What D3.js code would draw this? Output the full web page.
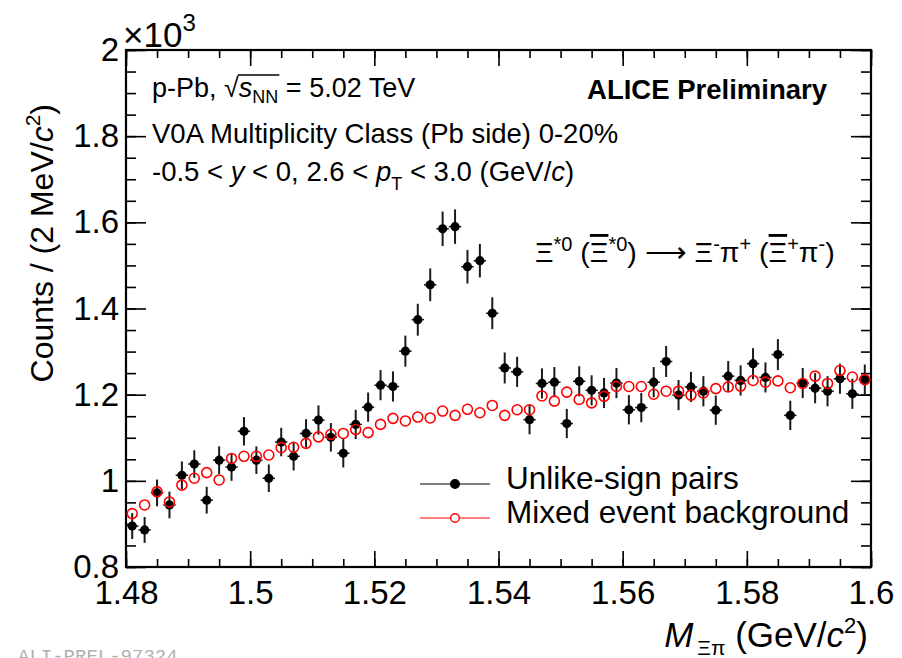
<!DOCTYPE html>
<html>
<head>
<meta charset="utf-8">
<script src="https://cdnjs.cloudflare.com/ajax/libs/d3/7.8.5/d3.min.js"></script>
<style>
body { margin:0; background:#fff; }
text { font-family: "Liberation Sans", Helvetica, Arial, sans-serif; fill:#000; }
</style>
</head>
<body>
<svg id="graph"></svg>
<script>
// bin centres (GeV/c^2), 2 MeV bins
var massBins = [1.481,1.483,1.485,1.487,1.489,1.491,1.493,1.495,1.497,1.499,
    1.501,1.503,1.505,1.507,1.509,1.511,1.513,1.515,1.517,1.519,
    1.521,1.523,1.525,1.527,1.529,1.531,1.533,1.535,1.537,1.539,
    1.541,1.543,1.545,1.547,1.549,1.551,1.553,1.555,1.557,1.559,
    1.561,1.563,1.565,1.567,1.569,1.571,1.573,1.575,1.577,1.579,
    1.581,1.583,1.585,1.587,1.589,1.591,1.593,1.595,1.597,1.599];

// unlike-sign pairs (counts)
var unlikeCounts = [895,886,972,944,1013,1039,955,1048,1032,1115,
    1048,1006,1090,1057,1110,1141,1101,1064,1131,1171,
    1222,1219,1301,1374,1455,1585,1590,1497,1511,1389,
    1262,1253,1142,1226,1229,1133,1231,1210,1204,1227,
    1165,1170,1229,1277,1199,1218,1208,1164,1243,1233,
    1272,1240,1293,1152,1227,1215,1208,1237,1202,1235];

var unlikeErrors = [30,30,31,31,32,32,31,32,32,33,
    32,32,33,33,33,34,33,33,34,34,
    35,35,36,37,38,40,40,39,39,37,
    36,35,34,35,35,34,35,35,35,35,
    34,34,35,36,35,35,35,34,35,35,
    36,35,36,34,35,35,35,35,35,35];

// mixed event background (counts)
var mixedCounts = [924,944,975,951,990,1006,1019,1002,1052,1057,
    1057,1060,1077,1078,1087,1102,1108,1110,1119,1112,
    1131,1145,1139,1148,1146,1162,1152,1166,1158,1175,
    1152,1165,1165,1197,1185,1206,1189,1181,1196,1219,
    1219,1219,1201,1208,1208,1199,1204,1214,1218,1220,
    1233,1229,1232,1216,1226,1243,1226,1256,1241,1235];

var xTicks = [1.48,1.5,1.52,1.54,1.56,1.58,1.6];
var xTickLabels = ["1.48","1.5","1.52","1.54","1.56","1.58","1.6"];
var yTicks = [800,1000,1200,1400,1600,1800,2000];
var yTickLabels = ["0.8","1","1.2","1.4","1.6","1.8","2"];

var screen = {width:902,height:658}
var margin = {left:126,right:31,top:50,bottom:91}

var svg = d3.select("#graph")
    .attr("width",screen.width)
    .attr("height",screen.height)

svg.append("rect")
    .attr("width",screen.width)
    .attr("height",screen.height)
    .attr("fill","white")

var xScale = d3.scaleLinear()
    .domain([1.48,1.6])
    .range([margin.left,screen.width-margin.right])

var yScale = d3.scaleLinear()
    .domain([800,2000])
    .range([screen.height-margin.bottom,margin.top])

var x0 = xScale.range()[0], x1 = xScale.range()[1]
var y0 = yScale.range()[0], y1 = yScale.range()[1]

// ---- axes (ROOT style ticks on all four sides)
var drawAxes = function(){
    var minorX = d3.range(0,25).map(function(i){ return 1.48 + i*0.005 })
    var minorY = d3.range(0,25).map(function(i){ return 800 + i*50 })

    var xBottom = d3.axisBottom(xScale).tickValues(minorX).tickSize(-8).tickFormat("")
    var xBottomMaj = d3.axisBottom(xScale).tickValues(xTicks).tickSize(-16)
        .tickFormat(function(d,i){ return xTickLabels[i] }).tickPadding(14)
    var xTop = d3.axisTop(xScale).tickValues(minorX).tickSize(-8).tickFormat("")
    var xTopMaj = d3.axisTop(xScale).tickValues(xTicks).tickSize(-16).tickFormat("")
    var yLeft = d3.axisLeft(yScale).tickValues(minorY).tickSize(-10).tickFormat("")
    var yLeftMaj = d3.axisLeft(yScale).tickValues(yTicks).tickSize(-20)
        .tickFormat(function(d,i){ return yTickLabels[i] }).tickPadding(7)
    var yRight = d3.axisRight(yScale).tickValues(minorY).tickSize(-10).tickFormat("")
    var yRightMaj = d3.axisRight(yScale).tickValues(yTicks).tickSize(-20).tickFormat("")

    var add = function(axis,tx,ty){
        var g = svg.append("g").attr("transform","translate("+tx+","+ty+")").call(axis)
        g.select(".domain").remove()
        g.selectAll("line").attr("stroke","#000").attr("stroke-width",1.6)
        g.selectAll("text").style("font-size","33px").attr("fill","#000")
            .style("font-family","'Liberation Sans', Helvetica, Arial, sans-serif")
        return g
    }
    add(xBottom,0,y0); add(xBottomMaj,0,y0)
    add(xTop,0,y1); add(xTopMaj,0,y1)
    add(yLeft,x0,0); add(yLeftMaj,x0,0)
    add(yRight,x1,0); add(yRightMaj,x1,0)

    svg.append("rect")
        .attr("x",x0).attr("y",y1)
        .attr("width",x1-x0).attr("height",y0-y1)
        .attr("fill","none").attr("stroke","#000").attr("stroke-width",2.2)
}

var drawPlot = function(){
    var unlike = massBins.map(function(m,i){
        return {m:m, v:unlikeCounts[i], e:unlikeErrors[i]}
    })
    var mixed = massBins.map(function(m,i){ return {m:m, v:mixedCounts[i]} })

    var g = svg.append("g")
    g.selectAll("line.ey").data(unlike).enter().append("line")
        .attr("class","ey")
        .attr("x1",function(d){ return xScale(d.m) })
        .attr("x2",function(d){ return xScale(d.m) })
        .attr("y1",function(d){ return yScale(d.v-d.e) })
        .attr("y2",function(d){ return yScale(d.v+d.e) })
        .attr("stroke","#1a1a1a").attr("stroke-width",2)
    g.selectAll("line.ex").data(unlike).enter().append("line")
        .attr("class","ex")
        .attr("x1",function(d){ return xScale(d.m-0.001) })
        .attr("x2",function(d){ return xScale(d.m+0.001) })
        .attr("y1",function(d){ return yScale(d.v) })
        .attr("y2",function(d){ return yScale(d.v) })
        .attr("stroke","#1a1a1a").attr("stroke-width",1.5)
    g.selectAll("circle.unlike").data(unlike).enter().append("circle")
        .attr("class","unlike")
        .attr("cx",function(d){ return xScale(d.m) })
        .attr("cy",function(d){ return yScale(d.v) })
        .attr("r",4.6)
        .attr("fill","#000")

    g.selectAll("circle.mixed").data(mixed).enter().append("circle")
        .attr("class","mixed")
        .attr("cx",function(d){ return xScale(d.m) })
        .attr("cy",function(d){ return yScale(d.v) })
        .attr("r",5)
        .attr("fill","none")
        .attr("stroke","#ff0000").attr("stroke-width",1.6)
}

var drawText = function(){
    // x10^3 exponent
    var ex = svg.append("text").attr("x",123).attr("y",47).style("font-size","35px")
    ex.append("tspan").text("\u00d710")
    ex.append("tspan").attr("dy",-16).style("font-size","24px").text("3")

    // y title
    var yt = svg.append("text")
        .attr("transform","translate(53,104) rotate(-90)")
        .attr("text-anchor","end")
        .style("font-size","32px")
    yt.append("tspan").text("Counts / (2 MeV/")
    yt.append("tspan").style("font-style","italic").text("c")
    yt.append("tspan").attr("dy",-13).style("font-size","21px").text("2")
    yt.append("tspan").attr("dy",13).text(")")

    // x title
    var xt = svg.append("text").attr("x",868).attr("y",647)
        .attr("text-anchor","end").style("font-size","35px")
    xt.append("tspan").style("font-style","italic").text("M")
    xt.append("tspan").attr("dy",8).attr("dx",4).style("font-size","21px").text("\u039e\u03c0")
    xt.append("tspan").attr("dy",-8).text(" (GeV/")
    xt.append("tspan").style("font-style","italic").text("c")
    xt.append("tspan").attr("dy",-14).style("font-size","22px").text("2")
    xt.append("tspan").attr("dy",14).text(")")

    // info lines
    var t1 = svg.append("text").attr("x",152).attr("y",97).style("font-size","27px")
    t1.append("tspan").text("p-Pb, \u221a")
    t1.append("tspan").style("font-style","italic").text("s")
    t1.append("tspan").attr("dy",6).style("font-size","18px").text("NN")
    t1.append("tspan").attr("dy",-6).text(" = 5.02 TeV")
    // radical bar over s_NN
    var tnode = t1.node()
    var nChar = "p-Pb, \u221a".length
    var bx0 = tnode.getStartPositionOfChar(nChar).x - 1
    var bx1 = tnode.getEndPositionOfChar(nChar+2).x + 1
    svg.append("line").attr("x1",bx0).attr("x2",bx1)
        .attr("y1",75).attr("y2",75).attr("stroke","#000").attr("stroke-width",1.3)

    svg.append("text").attr("x",152).attr("y",143).style("font-size","27.5px")
        .text("V0A Multiplicity Class (Pb side) 0-20%")

    var t3 = svg.append("text").attr("x",152).attr("y",181).style("font-size","27.5px")
    t3.append("tspan").text("-0.5 < ")
    t3.append("tspan").style("font-style","italic").text("y")
    t3.append("tspan").text(" < 0, 2.6 < ")
    t3.append("tspan").style("font-style","italic").text("p")
    t3.append("tspan").attr("dy",9).style("font-size","18px").text("T")
    t3.append("tspan").attr("dy",-9).text(" < 3.0 (GeV/")
    t3.append("tspan").style("font-style","italic").text("c")
    t3.append("tspan").text(")")

    svg.append("text").attr("x",827).attr("y",99).attr("text-anchor","end")
        .style("font-size","27.5px").style("font-weight","bold")
        .text("ALICE Preliminary")

    // decay channel
    var dc = svg.append("text").attr("x",535).attr("y",262).style("font-size","28.5px")
    var sup = function(s){
        dc.append("tspan").attr("dy",-11).style("font-size","20px").text(s)
    }
    var base = function(s){
        return dc.append("tspan").attr("dy",11).text(s)
    }
    dc.append("tspan").text("\u039e")
    sup("*0")
    base(" (")
    dc.append("tspan").style("text-decoration","overline").text("\u039e")
    sup("*0")
    base(") \u27f6 \u039e")
    sup("-")
    base("\u03c0")
    sup("+")
    base(" (")
    dc.append("tspan").style("text-decoration","overline").text("\u039e")
    sup("+")
    base("\u03c0")
    sup("-")
    base(")")

    // legend
    var legend = [
        {label:"Unlike-sign pairs", color:"#000", fill:"#000", y:484},
        {label:"Mixed event background", color:"#ff0000", fill:"none", y:518}
    ]
    var lg = svg.append("g").selectAll("g").data(legend).enter().append("g")
    lg.append("line").attr("x1",420).attr("x2",490)
        .attr("y1",function(d){ return d.y }).attr("y2",function(d){ return d.y })
        .attr("stroke",function(d){ return d.color }).attr("stroke-width",1.2)
    lg.append("circle").attr("cx",455).attr("cy",function(d){ return d.y }).attr("r",4.3)
        .attr("fill",function(d){ return d.fill === "none" ? "white" : d.fill })
        .attr("stroke",function(d){ return d.color }).attr("stroke-width",1.4)
    lg.append("text").attr("x",506).attr("y",function(d){ return d.y+5 })
        .style("font-size","31.5px")
        .text(function(d){ return d.label })

    svg.append("text").attr("x",18).attr("y",662)
        .style("font-family","'Liberation Mono', 'DejaVu Sans Mono', monospace")
        .style("font-size","19px").style("fill","#b0b0b0")
        .text("ALI-PREL-97324")
}

drawAxes()
drawPlot()
drawText()
</script>
</body>
</html>
